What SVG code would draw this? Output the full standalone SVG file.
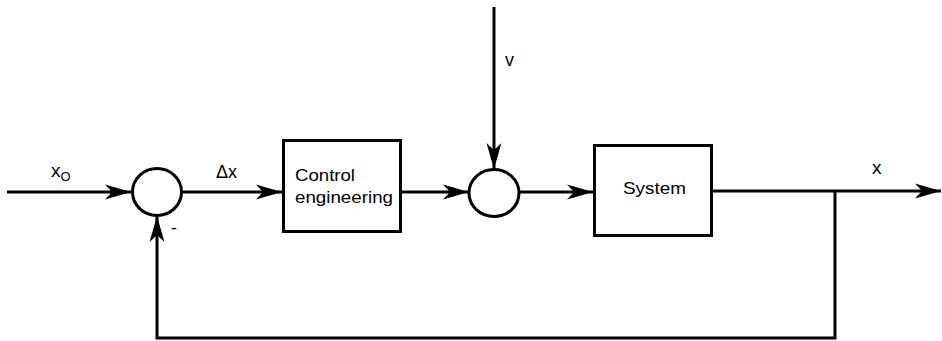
<svg xmlns="http://www.w3.org/2000/svg" width="942" height="341" viewBox="0 0 942 341">
<style>
.ln{fill:none;stroke:#000;stroke-width:3}
.nd{fill:#fff;stroke:#000;stroke-width:3}
.t{font-family:"Liberation Sans",Arial,sans-serif;fill:#000}
</style>
<defs>
<marker id="ah" markerUnits="userSpaceOnUse" markerWidth="28" markerHeight="18" refX="26" refY="9" orient="auto" viewBox="0 0 28 18">
<path d="M0,1.5 L26,9 L0,16.5 L7,9 Z" fill="#000"/>
</marker>
</defs>
<g id="connectors">
<path class="ln" d="M7,192 H131" marker-end="url(#ah)"/>
<path class="ln" d="M182,192 H282" marker-end="url(#ah)"/>
<path class="ln" d="M402,192 H469" marker-end="url(#ah)"/>
<path class="ln" d="M519,192 H593" marker-end="url(#ah)"/>
<path class="ln" d="M713,191 H941" marker-end="url(#ah)"/>
<path class="ln" d="M494,7 V169" marker-end="url(#ah)"/>
<path class="ln" d="M835,191 V338 H157 V216" marker-end="url(#ah)"/>
</g>
<g id="sum1"><ellipse class="nd" cx="157" cy="192" rx="24.5" ry="23.5"/></g>
<g id="control"><rect class="nd" x="283.5" y="140.5" width="117" height="91"/>
<text class="t" x="295" y="181" font-size="17" textLength="60" lengthAdjust="spacingAndGlyphs">Control</text>
<text class="t" x="295" y="203" font-size="17" textLength="98" lengthAdjust="spacingAndGlyphs">engineering</text></g>
<g id="sum2"><ellipse class="nd" cx="494" cy="193" rx="25" ry="23.5"/></g>
<g id="system"><rect class="nd" x="594.5" y="145.5" width="117" height="90"/>
<text class="t" x="623" y="194" font-size="17" textLength="63" lengthAdjust="spacingAndGlyphs">System</text></g>
<g id="labels">
<text class="t" x="51" y="177" font-size="19">x<tspan font-size="13" dy="4">O</tspan></text>
<text class="t" x="216" y="178" font-size="18">Δx</text>
<text class="t" x="505" y="66" font-size="18">v</text>
<text class="t" x="872" y="174" font-size="19">x</text>
<text class="t" x="171" y="234" font-size="18">-</text>
</g>
</svg>
